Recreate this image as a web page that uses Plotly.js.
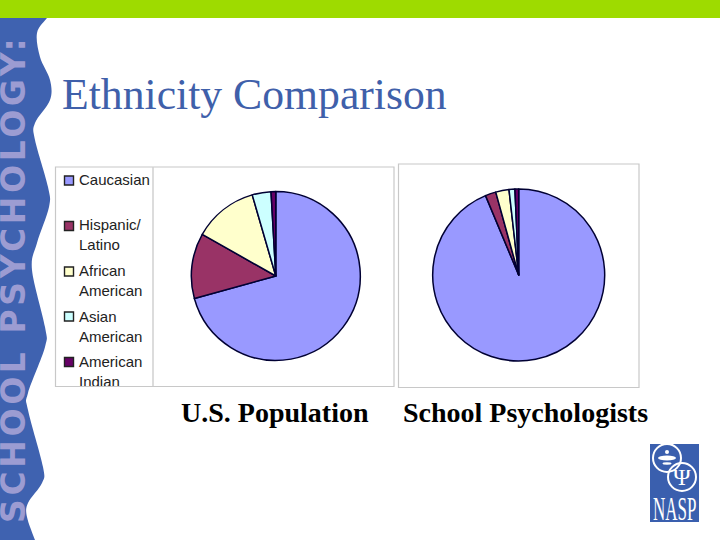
<!DOCTYPE html>
<html><head><meta charset="utf-8">
<script src="https://cdn.plot.ly/plotly-3.0.1.min.js"></script>
<style>html,body{margin:0;padding:0;background:#fff}#c{width:720px;height:540px;position:relative}
#clip{position:absolute;left:56px;top:386px;width:96px;height:10px;background:#fff;border-top:1px solid #c8c8c8}
.annotation[data-index="0"] text{letter-spacing:3.6px}
.annotation[data-index="3"] text{transform-box:fill-box;transform-origin:center;transform:scale(1,2)}
</style>
</head><body><div id="c"></div>
<script>
const categories = ["Caucasian","Hispanic/<br>Latino","African<br>American","Asian<br>American","American<br>Indian"];
const usPopulation = [70.7,12.5,12.3,3.6,0.9];
const schoolPsychologists = [93.7,2.0,2.5,1.1,0.7];
const sliceColors = ["#9999ff","#993366","#ffffcc","#ccffff","#660066"];
const legendRowY = [180.5,226,271.5,316.5,362];
const legendTextY = [180,234.5,280,326,371.5];
const W=720,H=540;
const px=x=>x/W, py=y=>1-y/H;
const bandEdge=[[47,18],[37,33],[40,57],[50,80],[50,100],[35,123],[35,140],[48,187],[49,207],[37,243],[32,270],[45,327],[45,347],[28,393],[28,410],[43,467],[42,483],[28,503],[27,517],[35,540]];
function bandPath(p){
  let d=`M0,${py(18)} L${px(p[0][0])},${py(p[0][1])}`;
  for(let i=0;i<p.length-1;i++){
    const a=p[Math.max(i-1,0)],b=p[i],c=p[i+1],e=p[Math.min(i+2,p.length-1)];
    const c1=[b[0]+(c[0]-a[0])/6,b[1]+(c[1]-a[1])/6],c2=[c[0]-(e[0]-b[0])/6,c[1]-(e[1]-b[1])/6];
    d+=` C${px(c1[0])},${py(c1[1])} ${px(c2[0])},${py(c2[1])} ${px(c[0])},${py(c[1])}`;
  }
  return d+` L0,${py(540)} Z`;
}
const rect=(x0,y0,x1,y1,fill,line,w,layer)=>({type:'rect',xref:'paper',yref:'paper',x0:px(x0),x1:px(x1),y0:py(y0),y1:py(y1),fillcolor:fill,line:{color:line,width:w||0},layer:layer||'below'});
const ell=(cx,cy,rx,ry,fill,line,w)=>({type:'circle',xref:'paper',yref:'paper',x0:px(cx-rx),x1:px(cx+rx),y0:py(cy+ry),y1:py(cy-ry),fillcolor:fill,line:{color:line,width:w},layer:'above'});
const note=(text,x,y,size,family,color,extra)=>Object.assign({text,xref:'paper',yref:'paper',x:px(x),y:py(y),showarrow:false,xanchor:'center',yanchor:'middle',font:{size,family,color}},extra||{});
const pieDom=(cx,cy,r)=>({x:[px(cx-r),px(cx+r)],y:[py(cy+r),py(cy-r)]});
const pie=(values,dom)=>({type:'pie',labels:categories,values,sort:false,direction:'clockwise',rotation:0,textinfo:'none',hoverinfo:'label+percent',showlegend:false,domain:dom,marker:{colors:sliceColors,line:{color:'#000033',width:1.5}}});
const data=[pie(usPopulation,pieDom(275.8,276,84.5)),pie(schoolPsychologists,pieDom(518.7,275,86))];
const layout={width:W,height:H,margin:{l:0,r:0,t:0,b:0},paper_bgcolor:'#fff',showlegend:false,
 title:{text:'Ethnicity Comparison',x:px(62),xanchor:'left',y:py(94),yanchor:'middle',font:{family:'Liberation Serif',size:43.7,color:'#3f60aa'}},
 shapes:[
  rect(0,0,720,18,'#9edb00','#9edb00'),
  {type:'path',xref:'paper',yref:'paper',path:bandPath(bandEdge),fillcolor:'#3f62b0',line:{width:0},layer:'below'},
  rect(55.5,167,394,386.5,'#fff','#c8c8c8',1.2),
  {type:'line',xref:'paper',yref:'paper',x0:px(153),x1:px(153),y0:py(167),y1:py(386),line:{color:'#d0d0d0',width:1.5},layer:'below'},
  rect(398.5,164,639,387.5,'#fff','#c8c8c8',1.2),
  rect(650,444,699,522,'#3a5fae','#3a5fae'),
  ell(667,458,14,14,'rgba(0,0,0,0)','#fff',2),ell(682,477,14,14,'rgba(0,0,0,0)','#fff',2),
  ell(667,458,9,2.5,'#fff','#fff',0),ell(667,452,2,2,'#fff','#fff',0),ell(667,463.5,4.5,1.2,'#fff','#fff',0),
  ...legendRowY.map((y,i)=>rect(64.5,y-4.5,73.5,y+4.5,sliceColors[i],'#222',1.4))
 ],
 annotations:[
  note('<b>SCHOOL PSYCHOLOGY:</b>',12.5,279,33,'DejaVu Sans','#9c9cd2',{textangle:-90}),
  note('<b>U.S. Population</b>',275,412,28,'Liberation Serif','#000'),
  note('<b>School Psychologists</b>',525.5,412,28,'Liberation Serif','#000'),
  note('NASP',674.5,509,17,'Liberation Serif','#fff'),
  note('Ψ',682,477,24,'Liberation Serif','#fff'),
  ...categories.map((c,i)=>note(c,77,legendTextY[i],15,'Liberation Sans','#222',{xanchor:'left',align:'left'}))
 ]};
Plotly.newPlot('c',data,layout,{displayModeBar:false}).then(()=>{
  const d=document.createElement('div');d.id='clip';document.getElementById('c').appendChild(d);
});
</script></body></html>
